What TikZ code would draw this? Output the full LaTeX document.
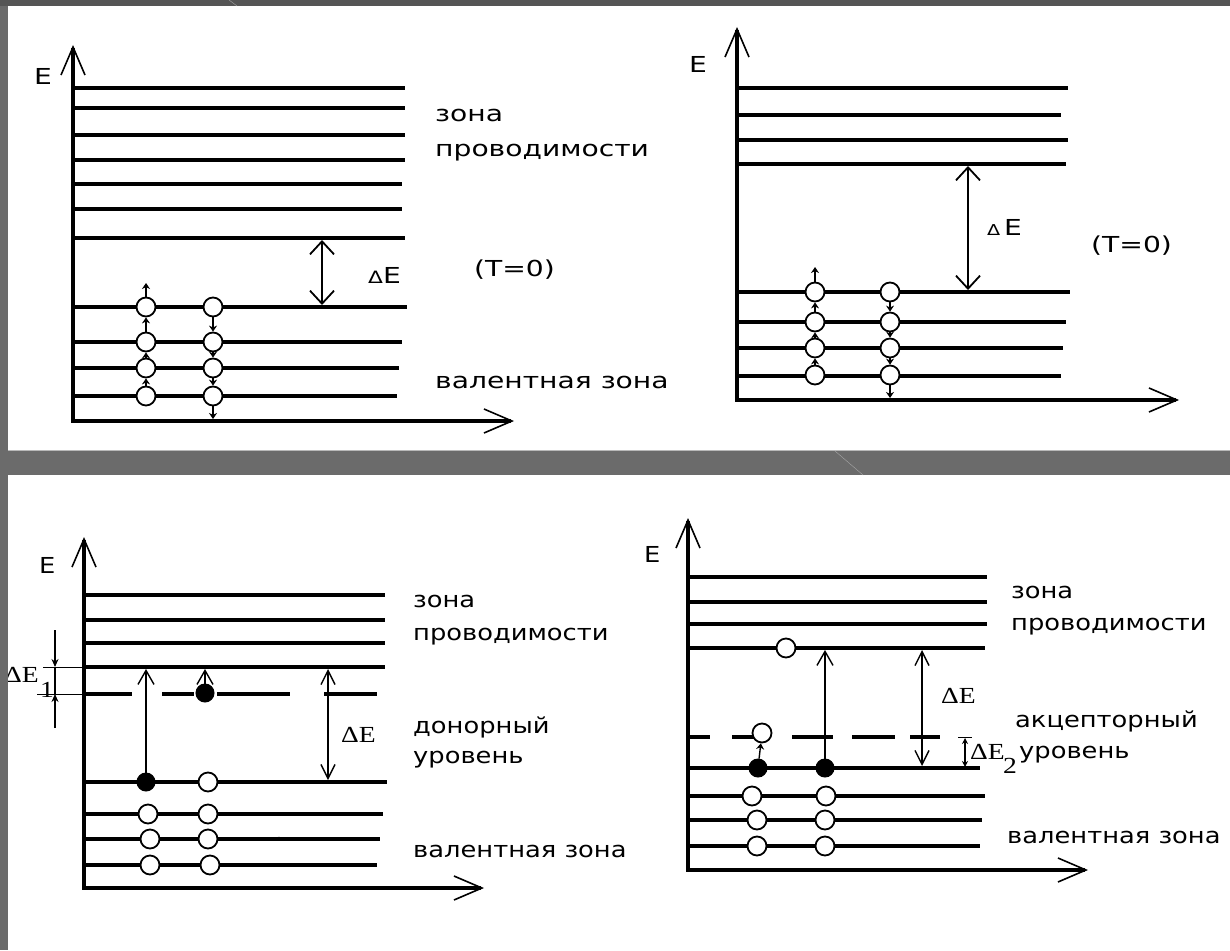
\documentclass[tikz,border=0pt]{standalone}
\usepackage{fontspec}
\setmainfont{DejaVu Sans}
\newfontfamily\bandfont[FakeStretch=1.28]{DejaVu Sans}
\newfontfamily\bandfontb[FakeStretch=1.17]{DejaVu Sans}
\newfontfamily\gapfont[FakeStretch=1.2]{Liberation Serif}
\usetikzlibrary{arrows.meta,positioning}

\definecolor{frame}{HTML}{6B6B6B}
\definecolor{framedark}{HTML}{555555}

\tikzset{
  level/.style={line width=3.6pt},
  axis/.style={line width=4pt,{Straight Barb[length=28pt,width=24pt,line width=1.6pt]}-{Straight Barb[length=28pt,width=24pt,line width=1.6pt]}},
  gaparrow/.style={line width=1.8pt,{Straight Barb[length=13pt,width=24pt]}-{Straight Barb[length=13pt,width=24pt]}},
  gapthin/.style={line width=1.4pt,{Straight Barb[length=14pt,width=14pt]}-{Straight Barb[length=14pt,width=14pt]}},
  hole/.style={circle,draw,fill=white,line width=1.8pt,minimum size=19pt,inner sep=0pt},
  elec/.style={circle,draw,fill=black,line width=1pt,minimum size=18pt,inner sep=0pt},
  hop/.style={line width=1.4pt,-{Stealth[length=6pt,width=8pt]}},
  jump/.style={line width=1.4pt,-{Straight Barb[length=14pt,width=16pt]}},
  txt/.style={anchor=base west,inner sep=0pt,font=\fontsize{22}{24}\bandfont},
  txtb/.style={anchor=base west,inner sep=0pt,font=\fontsize{22}{24}\bandfontb},
  gaplbl/.style={anchor=base west,inner sep=0pt,font=\fontsize{23}{25}\gapfont},
}

\begin{document}
\begin{tikzpicture}[x=1pt,y=-1pt]
\useasboundingbox (0,0) rectangle (1230,950);
% frame and panels
\fill[frame] (0,0) rectangle (1230,950);
\fill[framedark] (0,0) rectangle (1230,6);
\fill[white] (8,6) rectangle (1230,450);
\fill[white] (8,475) rectangle (1230,950);
\draw[gray!55,line width=1.5pt] (8,450.5) -- (1230,450.5);
\draw[gray!70] (229,0) -- (237,6);
\draw[gray!70] (835,451) -- (863,475);

%% top left: metal
\draw[axis] (73,45) -- (73,421) -- (514,421);
\node[txt] (E1) at (34,84) {E};
\foreach \y/\xe in {88/405,108/405,135/405,160/405,184/402,209/402,238/405,307/407,342/402,368/399,396/397}
  \draw[level] (73,\y) -- (\xe,\y);
\foreach \i/\y in {1/307,2/342,3/368,4/396}{
  \node[hole] (pa\i) at (146,\y) {};
  \node[hole] (pb\i) at (213,\y) {};
}
\draw[hop] (pa4) -- (pa3);
\draw[hop] (pa3) -- (pa2);
\draw[hop] (pa2) -- (pa1);
\draw[hop] (pa1) -- (146,283);
\draw[hop] (pb1) -- (pb2);
\draw[hop] (pb2) -- (pb3);
\draw[hop] (pb3) -- (pb4);
\draw[hop] (pb4) -- (213,419);
\draw[gaparrow] (322,240) -- (322,305);
\node[txt] (gap1) at (368,283) {{\fontsize{17}{17}\selectfont Δ}E};
\node[txt] (temp1) at (474,276) {(T=0)};
\node[txt] (cb1) at (435,121) {зона};
\node[txt] (cb1b) at (435,156) {проводимости};
\node[txt] (vb1) at (435,388) {валентная зона};

%% top right: intrinsic semiconductor
\draw[axis] (737,27) -- (737,400) -- (1179,400);
\node[txt] (E2) at (689,72) {E};
\foreach \y/\xe in {88/1068,115/1061,140/1068,164/1066,292/1070,322/1066,348/1063,376/1061}
  \draw[level] (737,\y) -- (\xe,\y);
\foreach \i/\y in {1/292,2/322,3/348,4/375}{
  \node[hole] (qa\i) at (815,\y) {};
  \node[hole] (qb\i) at (890,\y) {};
}
\draw[hop] (qa4) -- (qa3);
\draw[hop] (qa3) -- (qa2);
\draw[hop] (qa2) -- (qa1);
\draw[hop] (qa1) -- (815,267);
\draw[hop] (qb1) -- (qb2);
\draw[hop] (qb2) -- (qb3);
\draw[hop] (qb3) -- (qb4);
\draw[hop] (qb4) -- (890,398);
\draw[gaparrow] (968,166) -- (968,290);
\node[txt] (gap2) at (987,235) {{\fontsize{15}{15}\selectfont Δ}\,E};
\node[txt] (temp2) at (1091,252) {(T=0)};

%% bottom left: donor level
\draw[axis] (84,537) -- (84,888) -- (484,888);
\node[txtb] (E3) at (39,573) {E};
\foreach \y/\xe in {595/385,620/385,643/385,667/385,782/387,814/383,839/380,865/377}
  \draw[level] (84,\y) -- (\xe,\y);
\foreach \a/\b in {84/132,162/194,217/290,324/377}
  \draw[level] (\a,694) -- (\b,694);
\node[elec] (don) at (205,693) {};
\draw[jump] (don) -- (205,669);
\node[elec] (ve1) at (146,782) {};
\node[hole] (vh1) at (208,782) {};
\draw[jump] (ve1) -- (146,669);
\node[hole] (vh2) at (148,814) {};
\node[hole] (vh3) at (208,814) {};
\node[hole] (vh4) at (150,839) {};
\node[hole] (vh5) at (208,839) {};
\node[hole] (vh6) at (150,865) {};
\node[hole] (vh7) at (210,865) {};
\fill (279,838) circle (1.5pt);
\draw[gapthin] (328,669) -- (328,780);
\node[gaplbl] (gap3) at (341,742) {ΔE};
% dE1 between donor level and conduction band
\draw[line width=1pt] (43,667) -- (84,667);
\draw[line width=1pt] (37,694) -- (84,694);
\draw[line width=1.2pt,-{Stealth[length=8pt,width=7pt]}] (55,630) -- (55,667);
\draw[line width=1.2pt,-{Stealth[length=8pt,width=7pt]}] (55,728) -- (55,694);
\draw[line width=1.2pt] (55,667) -- (55,694);
\node[gaplbl,anchor=base east] (gap3b) at (39,682) {ΔE};
\node[gaplbl] (sub1) at (40,697) {1};
\node[txtb] (cb3) at (413,607) {зона};
\node[txtb] (cb3b) at (413,640) {проводимости};
\node[txtb] (dl3) at (413,733) {донорный};
\node[txtb] (dl3b) at (413,763) {уровень};
\node[txtb] (vb3) at (413,857) {валентная зона};

%% bottom right: acceptor level
\draw[axis] (688,518) -- (688,870) -- (1088,870);
\node[txtb] (E4) at (644,562) {E};
\foreach \y/\xe in {577/987,602/987,624/987,648/985,768/980,796/985,820/982,846/980}
  \draw[level] (688,\y) -- (\xe,\y);
\foreach \a/\b in {688/710,732/770,792/833,852/895,910/940}
  \draw[level] (\a,737) -- (\b,737);
\node[hole] (ch1) at (786,648) {};
\node[hole] (acc) at (762,733) {};
\node[elec] (ae1) at (758,768) {};
\node[elec] (ae2) at (825,768) {};
\draw[hop] (ae1) -- (acc);
\draw[jump] (ae2) -- (825,650);
\node[hole] (wh1) at (752,796) {};
\node[hole] (wh2) at (826,796) {};
\node[hole] (wh3) at (757,820) {};
\node[hole] (wh4) at (825,820) {};
\node[hole] (wh5) at (757,846) {};
\node[hole] (wh6) at (825,846) {};
\draw[gapthin] (922,650) -- (922,766);
\node[gaplbl] (gap4) at (941,703) {ΔE};
% dE2 between valence band and acceptor level
\draw[line width=1.2pt,{Stealth[length=6pt,width=6pt]}-{Stealth[length=6pt,width=6pt]}] (965,738) -- (965,767);
\draw[line width=1pt] (958,737) -- (972,737);
\node[gaplbl] (gap4b) at (970,759) {ΔE};
\node[gaplbl] (sub2) at (1003,773) {2};
\node[txtb] (cb4) at (1011,598) {зона};
\node[txtb] (cb4b) at (1011,630) {проводимости};
\node[txtb] (al4) at (1015,727) {акцепторный};
\node[txtb] (al4b) at (1019,758) {уровень};
\node[txtb] (vb4) at (1007,843) {валентная зона};

% left strip over clipped label
\fill[frame] (0,475) rectangle (8,950);
\end{tikzpicture}
\end{document}
